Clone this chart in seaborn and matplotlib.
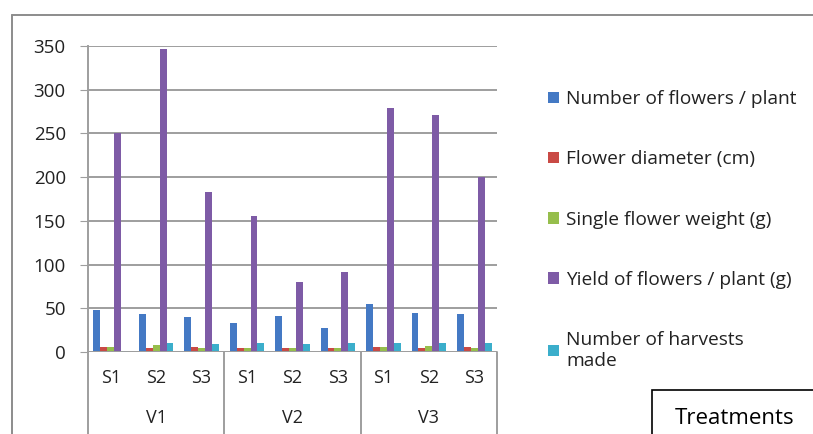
import numpy as np
import pandas as pd
import matplotlib.pyplot as plt
import seaborn as sns
from matplotlib.lines import Line2D
from matplotlib.patches import Rectangle
import matplotlib.transforms as mtransforms

# data
varieties = ['V1', 'V2', 'V3']
spacings = ['S1', 'S2', 'S3']
n_flowers = [48, 43, 40, 33, 41, 28, 55, 45, 43]
flower_diam = [5.5, 4.8, 5.2, 4.5, 4.6, 4.3, 5.8, 5.0, 5.2]
flower_weight = [5.2, 8.5, 5.0, 4.8, 4.8, 4.2, 5.5, 6.9, 5.0]
yield_plant = [250, 347, 183, 156, 80, 92, 279, 271, 200]
n_harvests = [1, 10, 9, 10, 9, 10, 10, 10, 10]

series_names = ['Number of flowers / plant', 'Flower diameter (cm)',
                'Single flower weight (g)', 'Yield of flowers / plant (g)',
                'Number of harvests\nmade']
series_vals = [n_flowers, flower_diam, flower_weight, yield_plant, n_harvests]
colores = ['#4479C4', '#C94A45', '#96BE4C', '#7E5BA6', '#3BAECB']

treatments = [f'{v}-{s}' for v in varieties for s in spacings]
rows = []
for nome, vals in zip(series_names, series_vals):
    for t, v in zip(treatments, vals):
        rows.append({'treatment': t, 'parameter': nome, 'value': v})
dados = pd.DataFrame(rows)

sns.set_style('white')
plt.rcParams['font.family'] = ['Open Sans', 'DejaVu Sans']

fig = plt.figure(figsize=(8.13, 4.34), dpi=100)
ax = fig.add_axes([88/813, 1 - 352/434, (497-88)/813, (352-46)/434])

sns.barplot(data=dados, x='treatment', y='value', hue='parameter',
            palette=colores, width=0.76, saturation=1, ax=ax,
            linewidth=0, errorbar=None)

ax.set_ylim(0, 350)
ax.set_yticks(range(0, 351, 50))
ax.set_xlim(-0.5, len(treatments) - 0.5)
ax.yaxis.grid(True, color='#9E9E9E', linewidth=1.4)
ax.set_axisbelow(True)
for lado in ['top', 'right', 'bottom']:
    ax.spines[lado].set_visible(False)
ax.spines['left'].set_color('#9E9E9E')
ax.spines['left'].set_linewidth(1.4)
ax.tick_params(axis='y', left=True, length=6, color='#9E9E9E', labelsize=13.5,
               labelcolor='#222222', pad=10)
ax.set_xlabel('')
ax.set_ylabel('')

# category labels: spacing on first row, variety on second
ax.set_xticks(range(len(treatments)))
ax.set_xticklabels([s for v in varieties for s in spacings], fontsize=13,
                   color='#222222')
ax.tick_params(axis='x', bottom=False, pad=9)

trans = mtransforms.blended_transform_factory(ax.transData, ax.transAxes)
for i, v in enumerate(varieties):
    ax.text(i * 3 + 1, -0.216, v, transform=trans, ha='center', va='center',
            fontsize=13, color='#222222')
for b in np.arange(-0.5, len(treatments), 3):
    ax.add_line(Line2D([b, b], [0, -0.3], transform=trans, color='#9E9E9E',
                       linewidth=1.4, clip_on=False))
ax.axhline(0, color='#9E9E9E', linewidth=1.4)

# legend on the right
handles, labels = ax.get_legend_handles_labels()
ax.legend(handles, labels, loc='upper left',
          bbox_to_anchor=(531/813, 1 - 73/434), bbox_transform=fig.transFigure,
          frameon=False, fontsize=13.8, handlelength=0.55, handleheight=0.55,
          handletextpad=0.4, labelspacing=2.2, labelcolor='#222222')

# outer frame and the 'Treatments' box
fig.add_artist(Line2D([12/813, 12/813], [0, 1 - 15/434], color='#8C8C8C',
                      linewidth=1.4, transform=fig.transFigure))
fig.add_artist(Line2D([12/813, 1], [1 - 15/434, 1 - 15/434], color='#8C8C8C',
                      linewidth=1.4, transform=fig.transFigure))
fig.add_artist(Rectangle((652/813, -0.05), 0.3, 0.05 + 1 - 390/434,
                         transform=fig.transFigure, fill=False,
                         edgecolor='black', linewidth=1.2))
fig.text(735/813, 1 - 418/434, 'Treatments', ha='center', va='center',
         fontsize=16, color='black')

fig.savefig('out.png', dpi=100)
